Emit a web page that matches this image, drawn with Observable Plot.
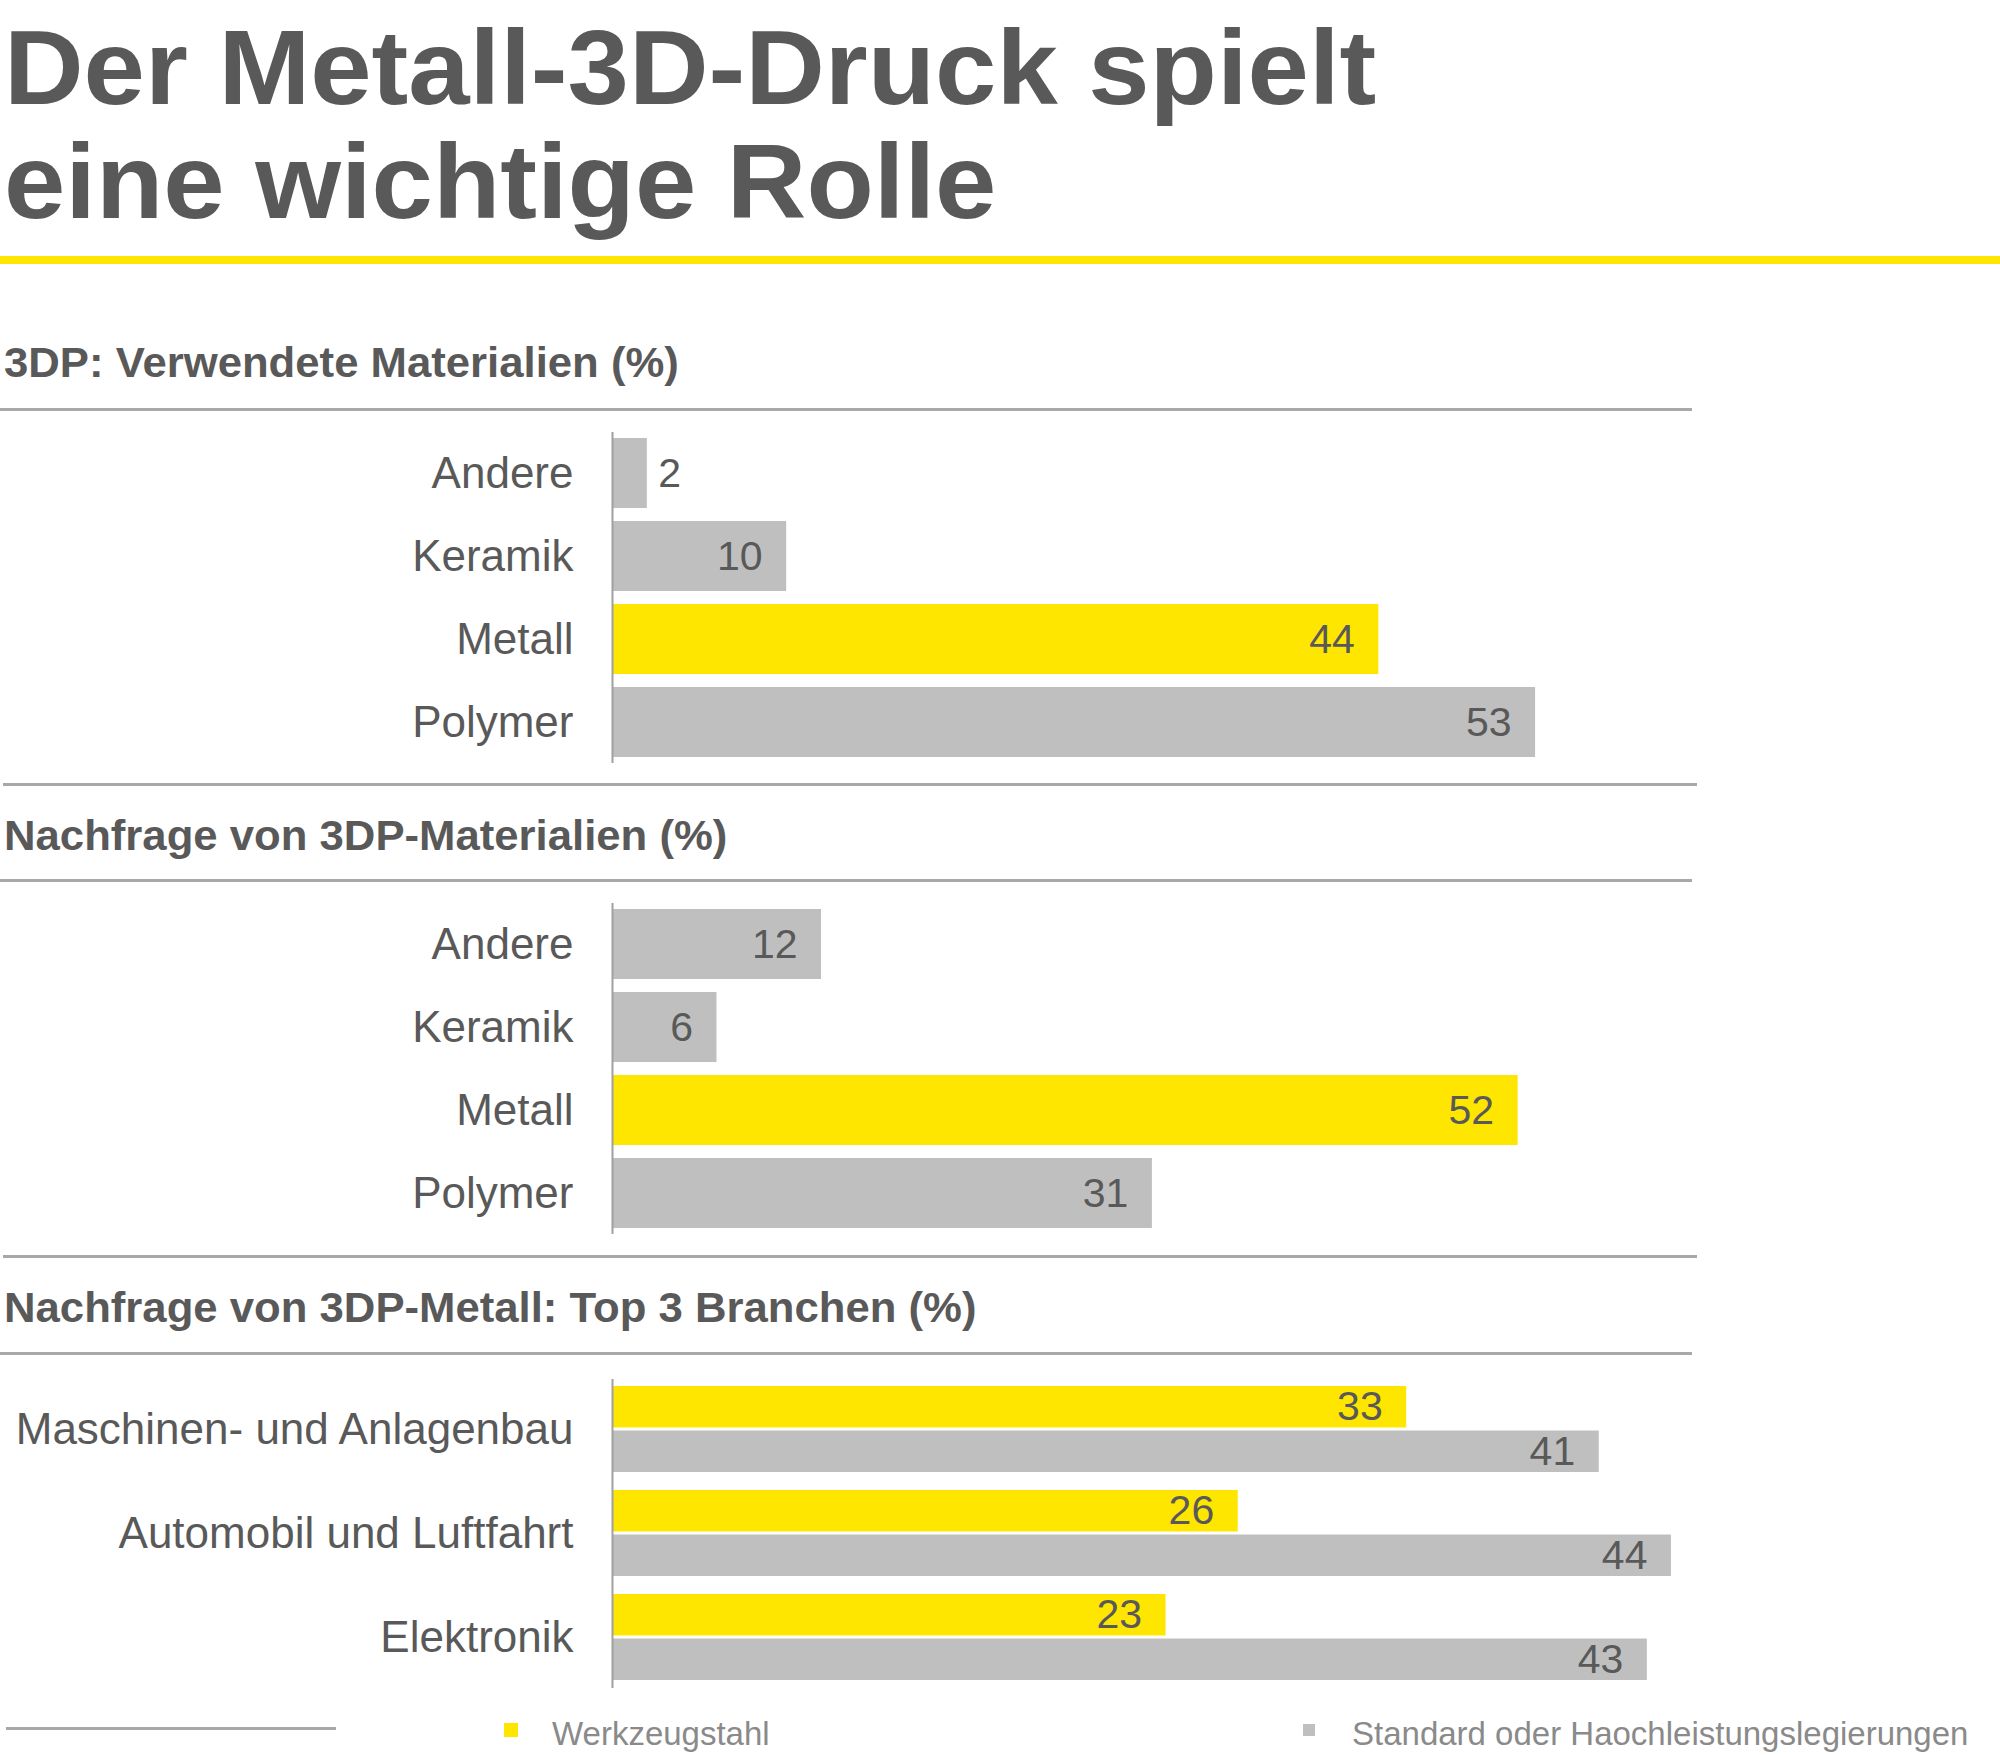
<!DOCTYPE html>
<html>
<head>
<meta charset="utf-8">
<script src="https://cdn.jsdelivr.net/npm/d3@7"></script>
<script src="https://cdn.jsdelivr.net/npm/@observablehq/plot@0.6"></script>
<style>
  html, body { margin: 0; padding: 0; background: #ffffff; }
  #root { position: relative; width: 2000px; height: 1755px; overflow: hidden;
          font-family: "Liberation Sans", Arial, sans-serif; color: #595959; background: #fff; }
  .abs { position: absolute; }
  .title { left: 4px; top: 10px; font-size: 106px; line-height: 114px; font-weight: bold;
           white-space: nowrap; transform: scaleX(1.04); transform-origin: left top; color: #595959; }
  .head { left: 4px; font-size: 42px; line-height: 42px; font-weight: bold; white-space: nowrap;
          transform: scaleX(1.04); transform-origin: left top; color: #595959; }
  .rule { height: 3px; background: #a8a8a8; }
  .legtext { font-size: 33px; line-height: 33px; color: #8a8a8a; white-space: nowrap; }
  .plotwrap { left: 0; }
  .plotwrap svg { overflow: visible; }
</style>
</head>
<body>
<div id="root"></div>
<script>
// ---------- data ----------
const titleLines = ["Der Metall-3D-Druck spielt", "eine wichtige Rolle"];
const sectionTitles = [
  "3DP: Verwendete Materialien (%)",
  "Nachfrage von 3DP-Materialien (%)",
  "Nachfrage von 3DP-Metall: Top 3 Branchen (%)"
];
const materials = ["Andere", "Keramik", "Metall", "Polymer"];
const highlightMaterial = "Metall";
const usedValues = [2, 10, 44, 53];
const demandValues = [12, 6, 52, 31];
const industries = ["Maschinen- und Anlagenbau", "Automobil und Luftfahrt", "Elektronik"];
const seriesNames = ["Werkzeugstahl", "Standard oder Haochleistungslegierungen"];
const toolSteelValues = [33, 26, 23];
const alloyValues = [41, 44, 43];

// ---------- style ----------
const YELLOW = "#FFE600", GRAY = "#BFBFBF", TEXT = "#595959", AXIS = "#a0a0a0";
const FONT = "'Liberation Sans', Arial, sans-serif";

const root = document.getElementById("root");
function add(cls, css, txt) {
  const d = document.createElement("div");
  d.className = "abs " + cls;
  Object.assign(d.style, css);
  if (txt != null) d.textContent = txt;
  root.appendChild(d);
  return d;
}

// title
const t = add("title", {});
titleLines.forEach((s, i) => {
  if (i) t.appendChild(document.createElement("br"));
  t.appendChild(document.createTextNode(s));
});
// yellow line
add("", {left: "0px", top: "256px", width: "2000px", height: "8px", background: YELLOW});

// section 1
add("head", {top: "342px"}, sectionTitles[0]);
add("rule", {left: "0px", top: "408px", width: "1692px"});
// section 2
add("rule", {left: "3px", top: "783px", width: "1694px"});
add("head", {top: "815px"}, sectionTitles[1]);
add("rule", {left: "0px", top: "879px", width: "1692px"});
// section 3
add("rule", {left: "3px", top: "1255px", width: "1694px"});
add("head", {top: "1287px"}, sectionTitles[2]);
add("rule", {left: "0px", top: "1352px", width: "1692px"});

function materialPlot(values) {
  const data = materials.map((m, i) => ({cat: m, value: values[i], kind: m === highlightMaterial ? "hi" : "lo"}));
  return Plot.plot({
    width: 1657, height: 331,
    marginLeft: 612, marginRight: 0, marginTop: 0, marginBottom: 0,
    x: {domain: [0, 60], axis: null},
    y: {domain: materials, paddingInner: 0.157, paddingOuter: 0.072},
    color: {domain: ["hi", "lo"], range: [YELLOW, GRAY]},
    style: {fontFamily: FONT, color: TEXT, background: "transparent", overflow: "visible"},
    marks: [
      Plot.barX(data, {x: "value", y: "cat", fill: "kind"}),
      Plot.ruleX([0], {stroke: AXIS, strokeWidth: 2}),
      Plot.axisY({tickSize: 0, tickPadding: 39, fontSize: 44, label: null, fill: TEXT}),
      Plot.text(data.filter(d => d.value >= 5), {x: "value", y: "cat", text: d => String(d.value),
        textAnchor: "end", dx: -24, fontSize: 41, fill: TEXT}),
      Plot.text(data.filter(d => d.value < 5), {x: "value", y: "cat", text: d => String(d.value),
        textAnchor: "start", dx: 11, fontSize: 41, fill: TEXT})
    ]
  });
}

const p1 = add("plotwrap", {top: "432px"});
p1.appendChild(materialPlot(usedValues));
const p2 = add("plotwrap", {top: "903px"});
p2.appendChild(materialPlot(demandValues));

// section 3: grouped bars
(function () {
  const H = 309, pi = 0.173, po = 0.072, n = industries.length, gap = 3;
  const step = H / (n - pi + 2 * po);
  const bw = step * (1 - pi);
  const half = bw / 2 + gap / 2;
  const off = bw / 4 + gap / 4;
  const rows = [];
  industries.forEach((ind, i) => {
    rows.push({industry: ind, series: seriesNames[0], value: toolSteelValues[i]});
    rows.push({industry: ind, series: seriesNames[1], value: alloyValues[i]});
  });
  const top = rows.filter(d => d.series === seriesNames[0]);
  const bottom = rows.filter(d => d.series === seriesNames[1]);
  const plot = Plot.plot({
    width: 1695, height: H,
    marginLeft: 612, marginRight: 0, marginTop: 0, marginBottom: 0,
    x: {domain: [0, 45], axis: null},
    y: {domain: industries, paddingInner: pi, paddingOuter: po},
    color: {domain: seriesNames, range: [YELLOW, GRAY]},
    style: {fontFamily: FONT, color: TEXT, background: "transparent", overflow: "visible"},
    marks: [
      Plot.barX(top, {x: "value", y: "industry", fill: "series", insetBottom: half}),
      Plot.barX(bottom, {x: "value", y: "industry", fill: "series", insetTop: half}),
      Plot.ruleX([0], {stroke: AXIS, strokeWidth: 2}),
      Plot.axisY({tickSize: 0, tickPadding: 39, fontSize: 44, label: null, fill: TEXT}),
      Plot.text(top, {x: "value", y: "industry", text: d => String(d.value), textAnchor: "end",
        dx: -24, dy: -off, fontSize: 41, fill: TEXT}),
      Plot.text(bottom, {x: "value", y: "industry", text: d => String(d.value), textAnchor: "end",
        dx: -24, dy: off, fontSize: 41, fill: TEXT})
    ]
  });
  const p3 = add("plotwrap", {top: "1379px"});
  p3.appendChild(plot);
})();

// legend
add("", {left: "6px", top: "1727px", width: "330px", height: "3px", background: "#a8a8a8"});
add("", {left: "504px", top: "1723px", width: "14px", height: "14px", background: YELLOW});
add("legtext", {left: "552px", top: "1717px"}, seriesNames[0]);
add("", {left: "1303px", top: "1724px", width: "12px", height: "12px", background: GRAY});
add("legtext", {left: "1352px", top: "1717px"}, seriesNames[1]);
</script>
</body>
</html>
